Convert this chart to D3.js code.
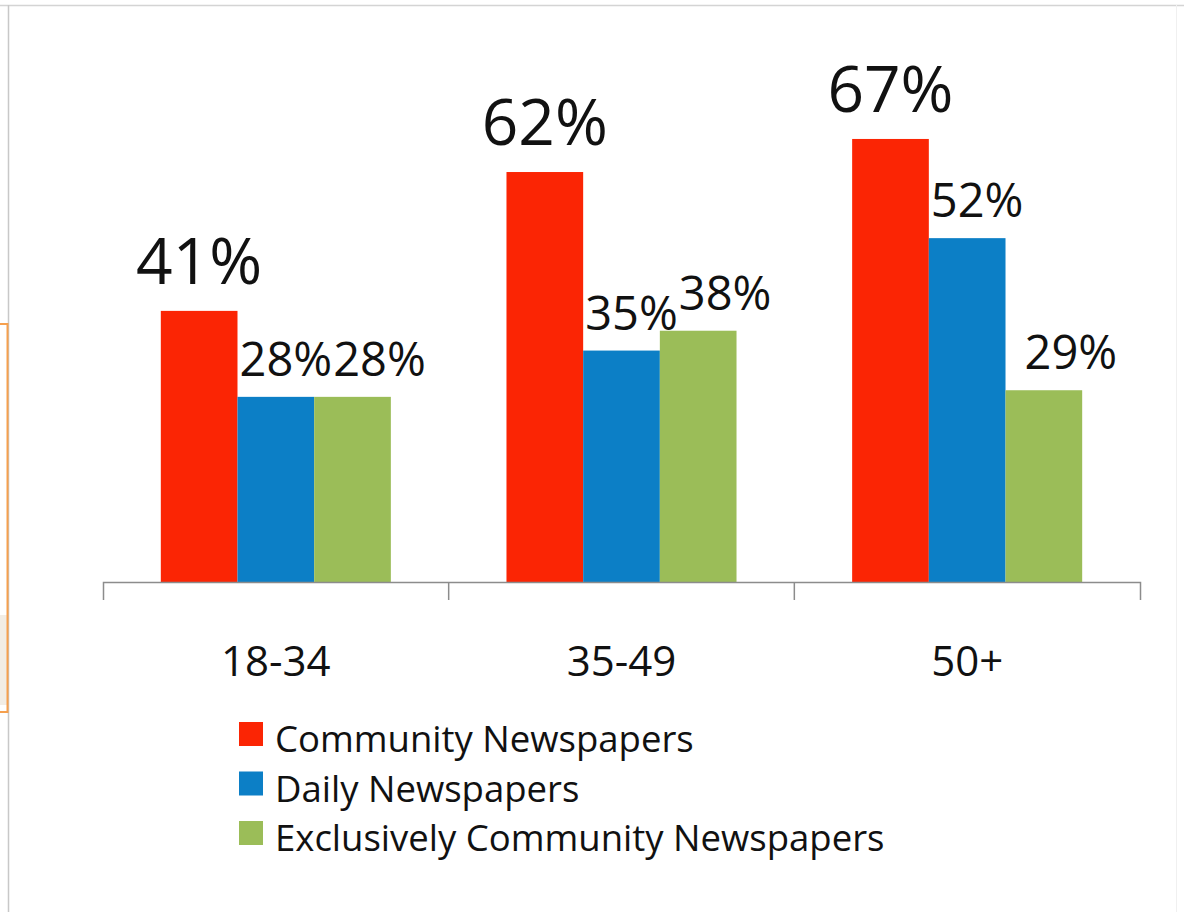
<!DOCTYPE html>
<html>
<head>
<meta charset="utf-8">
<script src="https://cdn.jsdelivr.net/npm/d3@7"></script>
<style>
  html, body { margin: 0; padding: 0; background: #ffffff; }
  svg { display: block; }
  text { font-family: "Open Sans", "Noto Sans", sans-serif; fill: #111; }
</style>
</head>
<body>
<svg id="chart" width="1184" height="912"></svg>
<script>
// Readership by age group
const ageGroups = ["18-34", "35-49", "50+"];
const seriesNames = ["Community Newspapers", "Daily Newspapers", "Exclusively Community Newspapers"];
const communityValues = [41, 62, 67];
const dailyValues = [28, 35, 52];
const exclusiveValues = [28, 38, 29];

const seriesColors = ["#fb2504", "#0c7fc6", "#9bbd58"];
const seriesValues = [communityValues, dailyValues, exclusiveValues];

const svg = d3.select("#chart");
const W = 1184, H = 912;

// page frame
svg.append("rect").attr("x", 0).attr("y", 0).attr("width", W).attr("height", H).attr("fill", "#fff");
svg.append("line").attr("x1", 0).attr("x2", W).attr("y1", 5.5).attr("y2", 5.5)
  .attr("stroke", "#d4d4d4").attr("stroke-width", 1.5);
svg.append("line").attr("x1", 8.5).attr("x2", 8.5).attr("y1", 5).attr("y2", H)
  .attr("stroke", "#c8c8c8").attr("stroke-width", 1.5);
svg.append("line").attr("x1", 1176.5).attr("x2", 1176.5).attr("y1", 5).attr("y2", H)
  .attr("stroke", "#f0f0f0").attr("stroke-width", 1);
// side panel edge
svg.append("rect").attr("x", 0).attr("y", 615).attr("width", 7).attr("height", 90)
  .attr("fill", "#e2d8c6").attr("opacity", 0.45);
svg.append("rect").attr("x", -4).attr("y", 324).attr("width", 11.5).attr("height", 388)
  .attr("fill", "none").attr("stroke", "#f6a04e").attr("stroke-width", 2);

// scales
const x0 = d3.scaleBand().domain(ageGroups).range([103, 1140]).paddingInner(0).paddingOuter(0);
const x1 = d3.scaleBand().domain(seriesNames).range([0, x0.bandwidth()]).paddingInner(0).paddingOuter(0.754);
const y = d3.scaleLinear().domain([0, 80]).range([582, 53]);

const rows = ageGroups.map((g, i) => ({
  group: g,
  values: seriesNames.map((s, k) => ({ series: s, k, value: seriesValues[k][i] }))
}));

// bars
const groups = svg.append("g").selectAll("g").data(rows).join("g")
  .attr("transform", d => `translate(${x0(d.group)},0)`);

groups.selectAll("rect").data(d => d.values).join("rect")
  .attr("x", d => x1(d.series))
  .attr("y", d => y(d.value))
  .attr("width", x1.bandwidth())
  .attr("height", d => y(0) - y(d.value))
  .attr("fill", d => seriesColors[d.k]);

// value labels
const labelShift = [0, 10, 27];
groups.selectAll("text.value").data(d => d.values).join("text")
  .attr("class", "value")
  .attr("x", d => x1(d.series) + x1.bandwidth() / 2 + labelShift[d.k])
  .attr("y", d => y(d.value) - (d.k === 0 ? 27 : 21))
  .attr("text-anchor", "middle")
  .style("font-size", d => d.k === 0 ? "64px" : "47px")
  .text(d => d.value + "%");

// category axis
const axis = svg.append("g").attr("transform", `translate(0,${y(0)})`)
  .call(d3.axisBottom(x0).tickSizeInner(0).tickSizeOuter(18).tickPadding(64));
axis.select(".domain").attr("stroke", "#8c8c8c").attr("stroke-width", 1.5);
axis.selectAll(".tick text").style("font-size", "42px").attr("fill", "#111");

// separators between age groups
axis.selectAll("line.sep").data(ageGroups.slice(1)).join("line")
  .attr("class", "sep")
  .attr("x1", d => x0(d)).attr("x2", d => x0(d))
  .attr("y1", 0).attr("y2", 18)
  .attr("stroke", "#8c8c8c").attr("stroke-width", 1.5);

// legend
const legend = svg.append("g").attr("transform", "translate(239,722)");
const items = legend.selectAll("g").data(seriesNames).join("g")
  .attr("transform", (d, i) => `translate(0,${i * 49.5})`);
items.append("rect").attr("width", 24).attr("height", 24)
  .attr("fill", (d, i) => seriesColors[i]);
items.append("text").attr("x", 36).attr("y", 30)
  .style("font-size", "36.5px").text(d => d);
</script>
</body>
</html>
